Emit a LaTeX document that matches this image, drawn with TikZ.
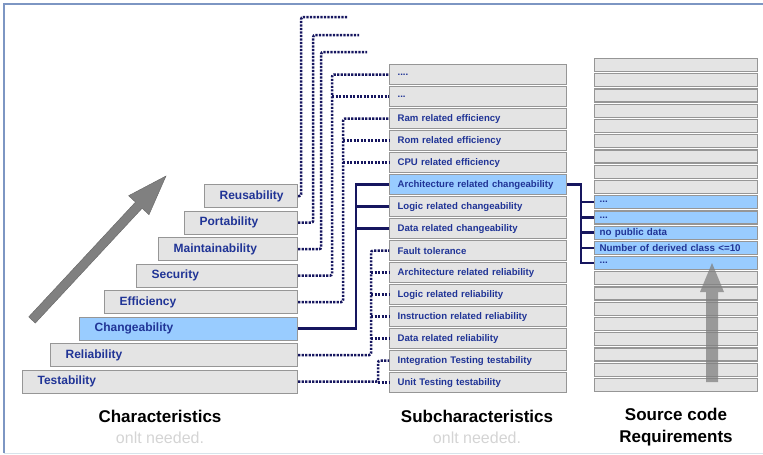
\documentclass[tikz,border=0pt]{standalone}
\usepackage{fontspec}
\setmainfont{Liberation Sans}
\definecolor{boxgray}{RGB}{228,228,228}
\definecolor{edgegray}{RGB}{150,150,150}
\definecolor{skyfill}{RGB}{153,204,255}
\definecolor{labelblue}{RGB}{32,52,150}
\definecolor{linknavy}{RGB}{22,22,95}
\definecolor{framegray}{RGB}{125,150,195}
\definecolor{framelight}{RGB}{215,228,235}
\definecolor{notegray}{RGB}{212,212,212}
\definecolor{arrowgray}{RGB}{128,128,128}
\definecolor{arrowedge}{RGB}{100,100,100}
\usepackage{tikz}
\usetikzlibrary{positioning}
\usetikzlibrary{arrows.meta}

\newcommand{\moredots}{...}
\newcommand{\moredotsx}{....}

\tikzset{
  charbox/.style={draw=edgegray, line width=1.2pt, fill=boxgray, anchor=north west,
    inner xsep=15pt, inner ysep=0pt, minimum height=23pt, align=left,
    text=labelblue, font=\fontsize{12}{13}\selectfont\bfseries},
  subbox/.style={charbox, minimum height=20pt, inner xsep=8pt, text width=161pt,
    font=\fontsize{9.6}{11}\selectfont\bfseries},
  reqbox/.style={charbox, minimum height=13pt, inner xsep=5pt, text width=153pt,
    font=\fontsize{9.8}{11}\selectfont\bfseries},
  solidlink/.style={draw=linknavy, line width=2.3pt},
  dotlink/.style={draw=linknavy, line width=2.5pt, dash pattern=on 2.2pt off 1.3pt, rounded corners=2pt},
  caption/.style={font=\fontsize{17}{22}\selectfont\bfseries},
  note/.style={text=notegray, font=\fontsize{16}{18}\selectfont}
}

\begin{document}
\begin{tikzpicture}[x=1pt, y=-1pt]
  \useasboundingbox (0,0) rectangle (763,455);
  % frame
  \draw[framegray, line width=1.5pt] (4,453) -- (4,4) -- (763,4);
  \draw[framelight, line width=1pt] (4,453) -- (763,453);

  % big arrows
  \fill[arrowgray, draw=arrowedge] (28.7,316.9) -- (135.5,202.1) -- (128.6,195.7) -- (166,176)
    -- (149.0,214.7) -- (142.1,208.3) -- (35.3,323.1) -- cycle;

  % characteristics
  \foreach \name/\txt/\x/\y/\fc in {c1/Reusability/204/184/boxgray, c2/Portability/184/210.5/boxgray,
      c3/Maintainability/158/237/boxgray, c4/Security/136/263.5/boxgray, c5/Efficiency/104/290/boxgray,
      c6/Changeability/79/316.5/skyfill, c7/Reliability/50/343/boxgray, c8/Testability/22/369.5/boxgray}{
    \pgfmathsetmacro\w{267-\x}
    \node[charbox, fill=\fc, text width=\w pt] (\name) at (\x,\y) {\txt};
  }

  % subcharacteristics
  \foreach \i/\txt/\fc in {1/\moredotsx/boxgray, 2/\moredots/boxgray, 3/Ram related efficiency/boxgray,
      4/Rom related efficiency/boxgray, 5/CPU related efficiency/boxgray,
      6/Architecture related changeability/skyfill, 7/Logic related changeability/boxgray,
      8/Data related changeability/boxgray, 9/Fault tolerance/boxgray,
      10/Architecture related reliability/boxgray, 11/Logic related reliability/boxgray,
      12/Instruction related reliability/boxgray, 13/Data related reliability/boxgray,
      14/Integration Testing testability/boxgray, 15/Unit Testing testability/boxgray}{
    \node[subbox, fill=\fc] (s\i) at (389,{64+22*(\i-1)}) {\txt};
  }

  % source code requirements
  \foreach \i in {1,...,9,15,16,...,22}{
    \node[reqbox] (r\i) at (594,{58+15.23*(\i-1)}) {};
  }
  \foreach \i/\txt in {10/\moredots, 11/\moredots, 12/no public data,
      13/Number of derived class <=10, 14/\moredots}{
    \node[reqbox, fill=skyfill] (r\i) at (594,{58+15.23*(\i-1)}) {\txt};
  }
  \fill[arrowgray, opacity=.75] (706,382) -- (706,292) -- (700,292) -- (712,263) -- (724,292)
    -- (718,292) -- (718,382) -- cycle;

  % links
  \coordinate (reusend) at (348,17);
  \coordinate (portend) at (359,35);
  \coordinate (maintend) at (367,52);
  \coordinate (vsec) at (332,0);
  \coordinate (veff) at (343,0);
  \coordinate (vchg) at (356,0);
  \coordinate (vrel) at (371,0);
  \coordinate (vtst) at (378,0);
  \coordinate (vreq) at (581,0);

  \draw[dotlink] (c1.east) -- ++(3,0) |- (reusend);
  \draw[dotlink] (c2.east) -- ++(15,0) |- (portend);
  \draw[dotlink] (c3.east) -- ++(23,0) |- (maintend);
  \draw[dotlink] (c4.east) -| (vsec |- s1.west) -- (s1.west);
  \draw[dotlink] (vsec |- s2.west) -- (s2.west);
  \draw[dotlink] (c5.east) -| (veff |- s3.west) -- (s3.west);
  \foreach \k in {4,5} \draw[dotlink] (veff |- s\k.west) -- (s\k.west);
  \draw[solidlink] (c6.east) -| (vchg |- s6.west) -- (s6.west);
  \foreach \k in {7,8} \draw[solidlink] (vchg |- s\k.west) -- (s\k.west);
  \draw[dotlink] (c7.east) -| (vrel |- s9.west) -- (s9.west);
  \foreach \k in {10,...,13} \draw[dotlink] (vrel |- s\k.west) -- (s\k.west);
  \draw[dotlink] (c8.east) -| (vtst |- s14.west) -- (s14.west);
  \draw[dotlink] (vtst |- s15.west) -- (s15.west);
  \draw[solidlink] (s6.east) -| (vreq |- r14.west) -- (r14.west);
  \foreach \k in {10,...,13} \draw[solidlink] (vreq |- r\k.west) -- (r\k.west);

  % captions
  \node[caption] (chartitle) at (160,416) {Characteristics};
  \node[note] (charnote) at (160,438) {onlt needed.};
  \node[caption] (subtitle) at (477,416) {Subcharacteristics};
  \node[note] (subnote) at (477,438) {onlt needed.};
  \node[caption, align=center] (reqtitle) at (676,427) {Source code\\Requirements};
\end{tikzpicture}
\end{document}
